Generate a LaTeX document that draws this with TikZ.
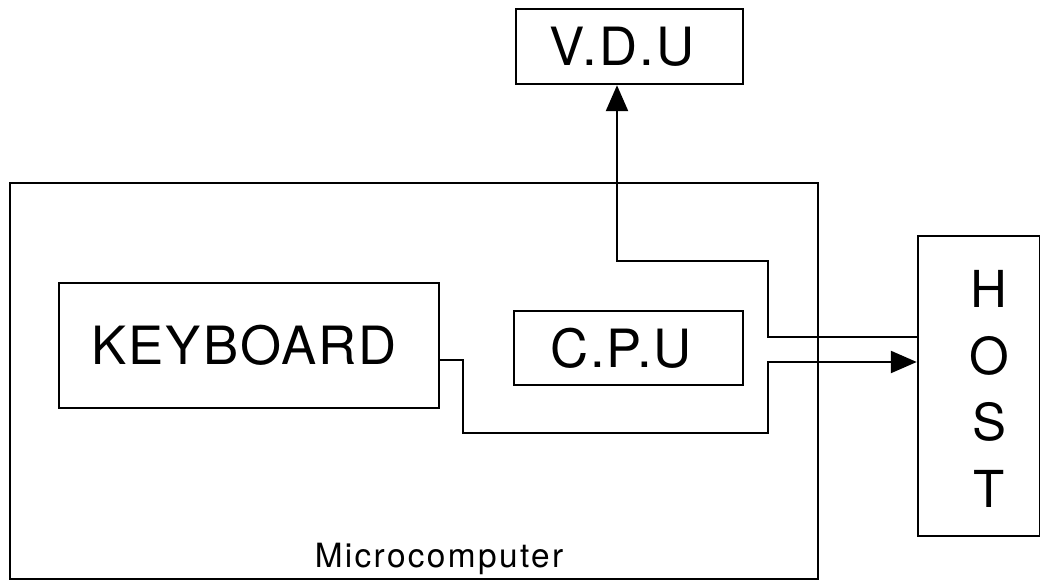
\documentclass[tikz,border=0pt]{standalone}
\usepackage{fontspec}
\setmainfont{TeX Gyre Heros}
\newfontfamily\blockfont[LetterSpace=4]{TeX Gyre Heros}
\newfontfamily\smallfont[LetterSpace=7]{TeX Gyre Heros}
\usetikzlibrary{arrows.meta,positioning}
\tikzset{
  unit/.style={draw, line width=1.4pt, inner sep=0pt, font=\blockfont\fontsize{30}{36}\selectfont},
  link/.style={line width=1.4pt, -{Triangle[length=0.52cm,width=0.44cm]}},
}

\begin{document}
\begin{tikzpicture}
  \useasboundingbox (0,0) rectangle (20.8,11.64);
  % The blocks
  \node[unit, minimum width=16.16cm, minimum height=7.92cm] (micro) at (8.28,4.02) {};
  \node[font=\smallfont\fontsize{19}{24}\selectfont, anchor=base] (microlabel) at (8.78,0.28) {Microcomputer};
  \node[unit, minimum width=7.6cm, minimum height=2.5cm] (kbd) at (4.98,4.73) {KEYBOARD\hspace*{0.2cm}};
  \node[unit, minimum width=4.58cm, minimum height=1.48cm] (cpu) at (12.57,4.68) {C.P.U\hspace*{0.3cm}};
  \node[unit, minimum width=4.54cm, minimum height=1.5cm] (vdu) at (12.59,10.71) {V.D.U\hspace*{0.3cm}};
  \node[unit, minimum width=2.44cm, minimum height=6cm] (host) at (19.58,3.92) {};
  \node[font=\blockfont\fontsize{29}{38}\selectfont, align=center] (hostlabel) at (19.78,3.86) {H\\O\\S\\T};

  % The lines
  \draw[link] ([yshift=-0.29cm]kbd.east) -| (9.26,2.98) -| (15.36,4.40) -- ([yshift=0.48cm]host.west);
  \draw[link] ([yshift=0.98cm]host.west) -| (15.36,6.42) -| ([xshift=-0.25cm]vdu.south);
\end{tikzpicture}
\end{document}
